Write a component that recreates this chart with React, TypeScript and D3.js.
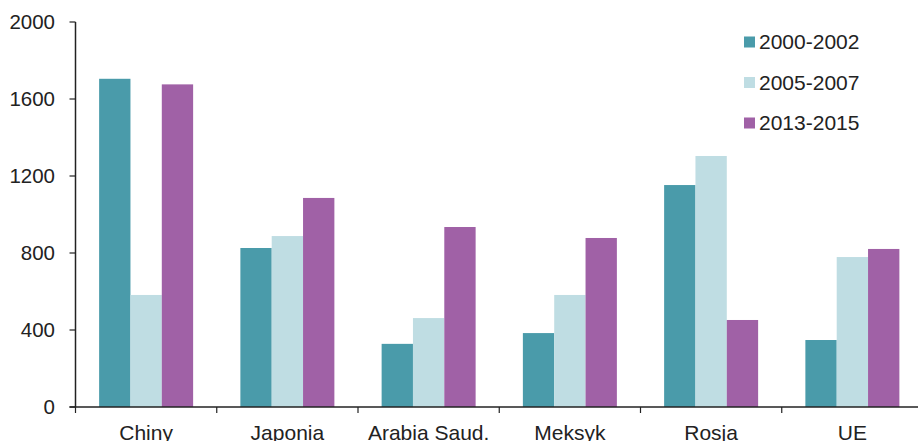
import React from "react";
import * as d3 from "d3";

const categories = ["Chiny", "Japonia", "Arabia Saud.", "Meksyk", "Rosja", "UE"];
const seriesNames = ["2000-2002", "2005-2007", "2013-2015"];
const s2000 = [1705, 826, 328, 384, 1153, 348];
const s2005 = [582, 888, 462, 582, 1304, 779];
const s2013 = [1676, 1086, 935, 878, 452, 821];
const yTicks = [0, 400, 800, 1200, 1600, 2000];
const colors = ["#4a9baa", "#bfdde3", "#a061a6"];

export default function App() {
  const W = 918, H = 441;
  const left = 75.5, right = 923, top = 22, bottom = 407;
  const series = [s2000, s2005, s2013];
  const x = d3.scaleBand().domain(categories).range([left, right]).paddingInner(0).paddingOuter(0);
  const groupW = 94;
  const barW = groupW / 3;
  const off = (x.bandwidth() - groupW) / 2;
  const y = d3.scaleLinear().domain([0, 2000]).range([bottom, top]);
  const font = "Liberation Sans, Arial, sans-serif";
  return (
    <svg width={W} height={H} style={{ position: "absolute", left: 0, top: 0 }} fontFamily={font}>
      <rect width={W} height={H} fill="#fff" />
      {series.map((vals, si) =>
        vals.map((v, ci) => (
          <rect
            key={si + "-" + ci}
            x={(x(categories[ci]) as number) + off + si * barW}
            y={y(v)}
            width={barW}
            height={y(0) - y(v)}
            fill={colors[si]}
          />
        ))
      )}
      <line x1={left} x2={left} y1={top} y2={bottom} stroke="#222" strokeWidth={1.5} />
      <line x1={left - 6} x2={W} y1={bottom} y2={bottom} stroke="#222" strokeWidth={1.5} />
      {yTicks.map((t) => (
        <g key={t}>
          <line x1={left - 6} x2={left} y1={y(t)} y2={y(t)} stroke="#222" strokeWidth={1.2} />
          <text x={55} y={y(t)} dy="0.35em" textAnchor="end" fontSize={20.5} fill="#222">
            {t}
          </text>
        </g>
      ))}
      {categories.map((c) => (
        <g key={c}>
          <line x1={x(c) as number} x2={x(c) as number} y1={bottom} y2={bottom + 6} stroke="#222" strokeWidth={1.2} />
          <text x={(x(c) as number) + x.bandwidth() / 2} y={439.5} textAnchor="middle" fontSize={21} fill="#222">
            {c}
          </text>
        </g>
      ))}
      {seriesNames.map((n, i) => (
        <g key={n} transform={`translate(744, ${42 + i * 40.5})`}>
          <rect x={0} y={-5.5} width={11} height={11} fill={colors[i]} />
          <text x={15} y={0} dy="0.35em" fontSize={21} fill="#222">
            {n}
          </text>
        </g>
      ))}
    </svg>
  );
}
